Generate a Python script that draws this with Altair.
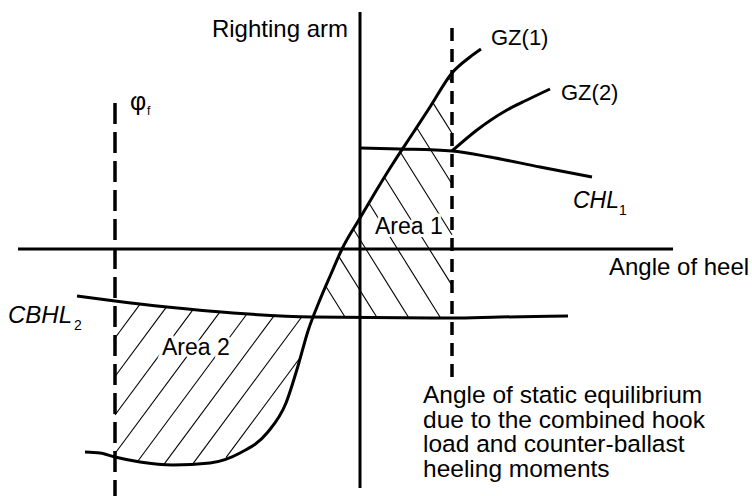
import altair as alt
import numpy as np
import pandas as pd

# Stability diagram: angle of heel (x) against righting arm (y),
# in drawing units (one unit = one pixel, origin at the axes crossing).

# Righting-arm curve GZ(1)
gz1_angle = [-275, -260, -245, -220, -187, -150, -120, -93, -74, -62, -52,
             -41, -29, -18, 0, 16, 32, 53, 70, 92, 110, 121]
gz1_arm = [-203, -204, -208, -213, -216, -214, -204, -184, -154, -117, -82,
           -53, -25, 0, 31, 58, 84, 116, 142, 176, 192, 200]

# Righting-arm curve GZ(2), starting at the static equilibrium point
gz2_angle = [92, 117, 147, 167, 190]
gz2_arm = [98, 119, 139, 149, 160]

# Combined hook-load heeling arm CHL1
chl_angle = [0, 40, 92, 130, 180, 232]
chl_arm = [101, 100, 98, 92, 82, 72]

# Counter-ballast heeling arm CBHL2
cbhl_angle = [-283, -245, -193, -127, -48, 92, 140, 208]
cbhl_arm = [-47, -52, -58, -64, -68, -69, -68, -67]

# Characteristic angles
phi_f = -245          # flooding angle
phi_e = 92            # angle of static equilibrium
phi_f_span = [146, -247]
phi_e_span = [221, -129]

# Axis extents
arm_axis_span = [-239, 237]
heel_axis_span = [-342, 313]

X_DOMAIN = [-360, 392]
Y_DOMAIN = [-247, 249]


def gz1(x):
    return np.interp(x, gz1_angle, gz1_arm)


def cbhl(x):
    return np.interp(x, cbhl_angle, cbhl_arm)


# Where GZ(1) crosses CBHL2
xs = np.linspace(-100, 0, 4001)
d = gz1(xs) - cbhl(xs)
i = np.where(np.diff(np.sign(d)) != 0)[0][0]
x_cross = float(xs[i] - d[i] * (xs[i + 1] - xs[i]) / (d[i + 1] - d[i]))


def section(xa, xb, knots):
    inner = [v for v in knots if min(xa, xb) < v < max(xa, xb)]
    if xa > xb:
        inner = inner[::-1]
    return [xa] + inner + [xb]


# Area 1: between GZ(1), the equilibrium angle and CBHL2
a1 = [(x, float(gz1(x))) for x in section(x_cross, phi_e, gz1_angle)]
a1 += [(x, float(cbhl(x))) for x in section(phi_e, x_cross, cbhl_angle)]

# Area 2: between CBHL2, GZ(1) and the flooding angle
a2 = [(x, float(cbhl(x))) for x in section(phi_f, x_cross, cbhl_angle)]
a2 += [(x, float(gz1(x))) for x in section(x_cross, phi_f, gz1_angle)]


def hatch(poly, slope, c0, step):
    """Clip the family of lines y - slope*x = c0 + k*step to a polygon."""
    poly = np.asarray(poly, dtype=float)
    g = poly[:, 1] - slope * poly[:, 0]
    k0 = int(np.ceil((g.min() - c0) / step))
    k1 = int(np.floor((g.max() - c0) / step))
    segs = []
    n = len(poly)
    for k in range(k0, k1 + 1):
        c = c0 + k * step
        pts = []
        for j in range(n):
            p, q = poly[j], poly[(j + 1) % n]
            gp, gq = g[j] - c, g[(j + 1) % n] - c
            if (gp < 0) != (gq < 0):
                t = gp / (gp - gq)
                pts.append(p + t * (q - p))
        pts.sort(key=lambda r: r[0])
        for a, b in zip(pts[0::2], pts[1::2]):
            segs.append({"x": a[0], "y": a[1], "x2": b[0], "y2": b[1]})
    return segs


hatch_df = pd.DataFrame(hatch(a1, -1.6, -92.0, 50.7) + hatch(a2, 1.35, 241.75, 38.5))

curves = []
for name, ax, ay in [("GZ(1)", gz1_angle, gz1_arm), ("GZ(2)", gz2_angle, gz2_arm),
                     ("CHL1", chl_angle, chl_arm), ("CBHL2", cbhl_angle, cbhl_arm)]:
    for k, (x, y) in enumerate(zip(ax, ay)):
        curves.append({"series": name, "x": x, "y": y, "order": k})
curve_df = pd.DataFrame(curves)

xsc = alt.Scale(domain=X_DOMAIN, nice=False, zero=False)
ysc = alt.Scale(domain=Y_DOMAIN, nice=False, zero=False)
X = lambda f: alt.X(f, type="quantitative", scale=xsc, axis=None)
Y = lambda f: alt.Y(f, type="quantitative", scale=ysc, axis=None)

FONT = "Liberation Sans"

hatch_layer = alt.Chart(hatch_df).mark_rule(color="black", strokeWidth=1.1).encode(
    x=X("x"), y=Y("y"), x2="x2", y2="y2")

curve_layer = alt.Chart(curve_df).mark_line(
    color="black", strokeWidth=3, interpolate="monotone").encode(
    x=X("x"), y=Y("y"), detail="series:N", order="order:Q")

axes_df = pd.DataFrame({
    "x": [0, heel_axis_span[0]], "x2": [0, heel_axis_span[1]],
    "y": [arm_axis_span[0], 0], "y2": [arm_axis_span[1], 0]})
axes_layer = alt.Chart(axes_df).mark_rule(color="black", strokeWidth=3).encode(
    x=X("x"), y=Y("y"), x2="x2", y2="y2")

phi_f_layer = alt.Chart(pd.DataFrame({"x": [phi_f], "y": [phi_f_span[0]], "y2": [phi_f_span[1]]})).mark_rule(
    color="black", strokeWidth=3.5, strokeDash=[21, 8]).encode(x=X("x"), y=Y("y"), y2="y2")
phi_e_layer = alt.Chart(pd.DataFrame({"x": [phi_e], "y": [phi_e_span[0]], "y2": [phi_e_span[1]]})).mark_rule(
    color="black", strokeWidth=3.5, strokeDash=[13, 8]).encode(x=X("x"), y=Y("y"), y2="y2")


def label(text, x, y, size=24, align="left", italic=False, halo=False):
    df = pd.DataFrame({"x": [x], "y": [y], "t": [text]})
    kw = dict(font=FONT, fontSize=size, align=align, baseline="alphabetic",
              lineBreak="\n", lineHeight=24.5)
    if italic:
        kw["fontStyle"] = "italic"
    enc = dict(x=X("x"), y=Y("y"), text="t:N")
    layers = []
    if halo:
        layers.append(alt.Chart(df).mark_text(fill="white", stroke="white",
                                              strokeWidth=6, **kw).encode(**enc))
    layers.append(alt.Chart(df).mark_text(color="black", **kw).encode(**enc))
    return layers


texts = []
texts += label("Righting arm", -12, 212, align="right")
texts += label("GZ(1)", 131, 204, size=22)
texts += label("GZ(2)", 201, 149, size=22)
texts += label("CHL", 213, 41, size=23, italic=True)
texts += label("1", 259, 34, size=14)
texts += label("Area 1", 15, 15, size=23, halo=True)
texts += label("Angle of heel", 249, -26)
texts += label("CBHL", -352, -74, italic=True)
texts += label("2", -286, -81, size=14)
texts += label("\u03c6", -230, 139, size=25)
texts += label("f", -213, 134, size=12)
texts += label("Area 2", -198, -106, size=23, halo=True)
texts += label("Angle of static equilibrium\ndue to the combined hook\nload and counter-ballast\nheeling moments",
               63, -154, size=24.5)

chart = alt.layer(hatch_layer, axes_layer, phi_f_layer, phi_e_layer, curve_layer, *texts).properties(
    width=752, height=496, padding=0, autosize="none", background="white"
).configure_view(stroke=None)

chart.save("out.html", embed_options={"renderer": "svg", "actions": False})
